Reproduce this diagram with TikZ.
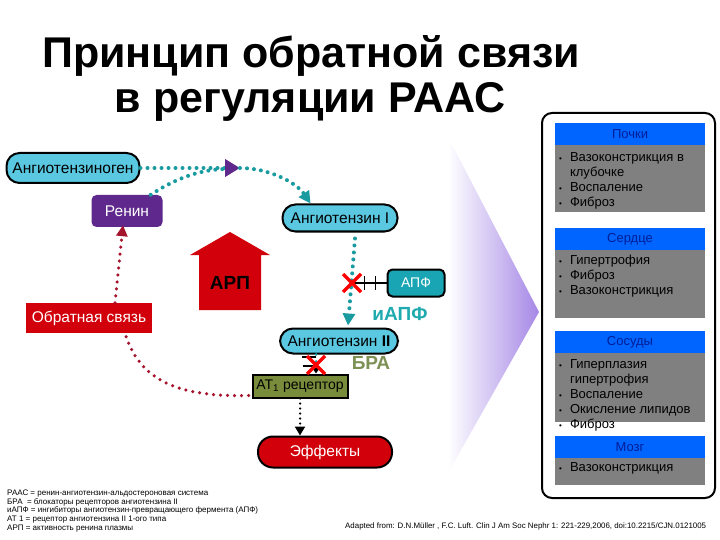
\documentclass[tikz,border=0pt]{standalone}
\usepackage{fontspec}
\setmainfont{Liberation Sans}
\usetikzlibrary{arrows.meta,calc}

\definecolor{pillcyan}{RGB}{90,200,225}
\definecolor{renpurple}{RGB}{95,40,140}
\definecolor{acecyan}{RGB}{25,165,180}
\definecolor{raasred}{RGB}{210,0,10}
\definecolor{atolive}{RGB}{120,140,60}
\definecolor{braolive}{RGB}{125,145,85}
\definecolor{iacetext}{RGB}{30,170,175}
\definecolor{dotteal}{RGB}{25,155,160}
\definecolor{dotred}{RGB}{165,20,45}
\definecolor{headblue}{RGB}{0,100,255}
\definecolor{headtext}{RGB}{0,30,150}
\definecolor{bodygray}{RGB}{128,128,128}
\definecolor{gradpurple}{RGB}{165,135,230}

\newcommand{\itm}{{\fontsize{8}{8}\selectfont\textbullet}}

\begin{document}
\begin{tikzpicture}[x=1pt,y=-1pt,
  pill/.style={draw=black, line width=2pt, fill=pillcyan, rounded corners=13pt,
    inner xsep=4pt, inner ysep=0pt, font=\fontsize{15.5}{16}\selectfont},
  box/.style={inner sep=0pt, font=\fontsize{15.5}{16}\selectfont, text=white},
  tealdots/.style={draw=dotteal, line width=4pt, line cap=round, dash pattern=on 0pt off 7pt},
  reddots/.style={draw=dotred, line width=3.5pt, line cap=round, dash pattern=on 0pt off 7pt},
  redx/.pic={\draw[red, line width=3.5pt] (-9,-9) -- (9,9) (-9,9) -- (9,-9);},
  head/.style={fill=headblue, text=headtext, minimum width=150pt, minimum height=22pt,
    inner sep=0pt, font=\fontsize{13}{13}\selectfont},
  body/.style={fill=bodygray, minimum width=150pt, inner sep=0pt, anchor=north},
  items/.style={anchor=north west, inner sep=0pt, font=\fontsize{13}{15}\selectfont}
]
\useasboundingbox[fill=white] (0,0) rectangle (720,540);

% title
\node[anchor=base, font=\fontsize{43}{45}\selectfont\bfseries] (title1) at (311,68) {Принцип обратной связи};
\node[anchor=base, font=\fontsize{43}{45}\selectfont\bfseries] (title2) at (310,113) {в регуляции РААС};

% gradient arrow
\shade[left color=white, right color=gradpurple] (448,137) -- (539,312) -- (448,473) -- cycle;

% right panel
\draw[line width=2pt, rounded corners=10pt] (542,113) rectangle (715,498);

\node[body, minimum height=67pt] (pochkiB) at (630,145) {};
\node[head] (pochki) at (630,134) {Почки};
\node[items] (pochkiT) at (559,151) {\begin{tabular}{@{}l@{\hspace{8pt}}l@{}}
\itm & Вазоконстрикция в\\ & клубочке\\ \itm & Воспаление\\ \itm & Фиброз\end{tabular}};

\node[body, minimum height=68pt] (serdceB) at (630,250) {};
\node[head] (serdce) at (630,239) {Сердце};
\node[items] (serdceT) at (559,254) {\begin{tabular}{@{}l@{\hspace{8pt}}l@{}}
\itm & Гипертрофия\\ \itm & Фиброз\\ \itm & Вазоконстрикция\end{tabular}};

\node[body, minimum height=69pt] (sosudyB) at (630,353) {};
\node[head] (sosudy) at (630,342) {Сосуды};
\node[items] (sosudyT) at (559,358) {\begin{tabular}{@{}l@{\hspace{8pt}}l@{}}
\itm & Гиперплазия\\ & гипертрофия\\ \itm & Воспаление\\ \itm & Окисление липидов\\ \itm & Фиброз\end{tabular}};

\node[body, minimum height=28pt] (mozgB) at (630,457) {};
\node[head] (mozg) at (630,447) {Мозг};
\node[items] (mozgT) at (559,461) {\begin{tabular}{@{}l@{\hspace{8pt}}l@{}}
\itm & Вазоконстрикция\end{tabular}};

% cascade
\node[pill, minimum width=133pt, minimum height=30pt] (ag) at (73,168) {Ангиотензиноген};
\node[box, fill=renpurple, rounded corners=5pt, minimum width=71pt, minimum height=32pt] (ren) at (127,211) {Ренин};
\node[pill, minimum width=115pt, minimum height=27pt] (ang1) at (340,218) {Ангиотензин I};
\node[draw=black, line width=2pt, fill=acecyan, rounded corners=5pt, minimum width=57pt, minimum height=27pt,
  inner sep=0pt, text=white, font=\fontsize{14}{14}\selectfont] (ace) at (416,283) {АПФ};
\node[font=\fontsize{19}{19}\selectfont\bfseries, text=iacetext] (iace) at (400,314) {иАПФ};
\node[pill, minimum width=118pt, minimum height=25pt] (ang2) at (339,341) {Ангиотензин \textbf{II}};
\node[font=\fontsize{19}{19}\selectfont\bfseries, text=braolive] (bra) at (371,363) {БРА};
\node[draw=black, line width=2pt, fill=atolive, minimum width=95pt, minimum height=23pt, inner sep=0pt,
  font=\fontsize{14}{14}\selectfont] (at1) at (300,386) {AT\textsubscript{1} рецептор};
\node[box, draw=black, line width=2pt, fill=raasred, rounded corners=15pt, minimum width=134pt, minimum height=31pt] (eff) at (325,452) {Эффекты};
\node[box, fill=raasred, minimum width=126pt, minimum height=30pt] (obr) at (89,318) {Обратная связь};

% ARP arrow
\fill[raasred] (199,310) -- (199,255) -- (190,255) -- (230,232) -- (270,255) -- (261,255) -- (261,310) -- cycle;
\node[font=\fontsize{19}{19}\selectfont\bfseries] (arp) at (230,283) {АРП};

% connectors
\coordinate (pa) at (240,168);
\draw[tealdots, -{Triangle[length=15pt,width=17pt,color=renpurple]}] (ag.east) -- (pa);
\draw[tealdots, -{Triangle[length=12pt,width=12pt]}] (pa) .. controls (268,168) and (296,182) .. ($(ang1.north west)+(29,0)$);
\draw[tealdots] ($(ren.north east)+(-12,0)$) .. controls (170,182) and (195,170) .. (224,169);
\draw[tealdots, -{Triangle[length=12pt,width=12pt]}] ($(ang1.south)+(15,6)$) -- ($(ang2.north)+(9,-2)$);
\coordinate (xace) at (352,283);
\draw[line width=1.5pt] (xace) -- (ace.west);
\draw[line width=1.5pt] ($(ace.west)+(-22,-7)$) -- ++(0,14) ($(ace.west)+(-11,-7)$) -- ++(0,14);
\pic at (xace) {redx};

\coordinate (brax) at (316,365);
\draw[tealdots, line width=3pt, -{Triangle[length=6pt,width=8pt,color=black]}] (ang2.south -| brax) -- (at1.north -| brax);
\draw[line width=1.3pt] ($(brax)+(-14,-8)$) -- ++(14,0) ($(brax)+(-13,1)$) -- ++(13,0);
\pic at (brax) {redx};

\draw[line width=2.5pt, line cap=round, dash pattern=on 0pt off 5pt, -{Triangle[length=9pt,width=10pt]}]
  (at1.south) -- (at1.south |- eff.north);

\draw[reddots, -{Triangle[length=11pt,width=11pt]}] ($(obr.north)+(26,0)$) -- ($(ren.south)+(-4,-2)$);
\draw[reddots] ($(at1.south west)+(-3,-3)$) .. controls (180,397) and (140,382) .. ($(obr.south)+(36,0)$);

% legend
\foreach \t [count=\i] in {РААС = ренин-ангиотензин-альдостероновая система,
  БРА\ \ = блокаторы рецепторов ангиотензина II,
  иАПФ = ингибиторы ангиотензин-превращающего фермента (АПФ),
  АТ 1 = рецептор ангиотензина II 1-ого типа,
  АРП = активность ренина плазмы}
  \node[anchor=base west, inner sep=0pt, font=\fontsize{8}{8}\selectfont] (leg\i) at (7,{495.5+(\i-1)*8.7}) {\t};
\node[anchor=base west, inner sep=0pt, font=\fontsize{7.9}{8}\selectfont] (src) at (345,528)
  {Adapted from: D.N.Müller , F.C. Luft. Clin J Am Soc Nephr 1: 221-229,2006, doi:10.2215/CJN.0121005};
\end{tikzpicture}
\end{document}
